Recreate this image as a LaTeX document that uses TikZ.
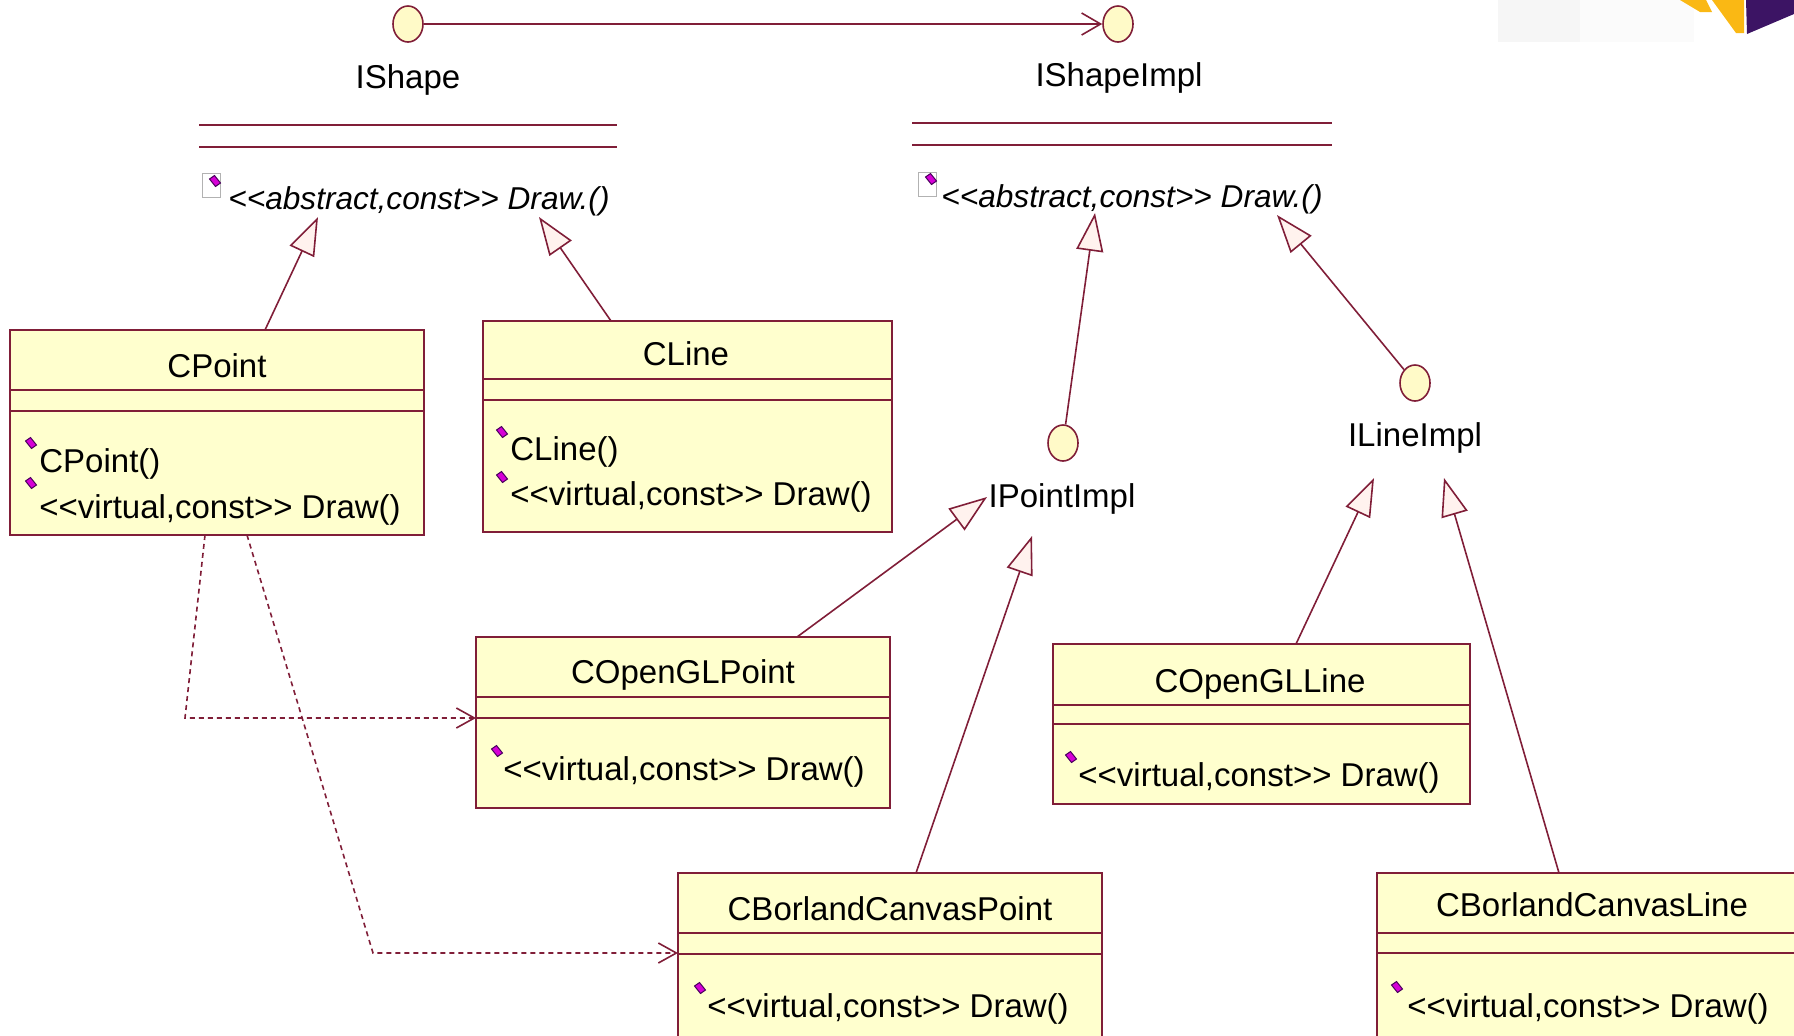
\documentclass[tikz,border=0pt]{standalone}
\usepackage{fontspec}
\setmainfont{Liberation Sans}[Ligatures=TeXOff]
\usetikzlibrary{arrows.meta,shapes.geometric}

\definecolor{umlred}{RGB}{128,30,56}
\definecolor{umlyellow}{RGB}{255,255,206}
\definecolor{umlcircle}{RGB}{255,250,200}
\definecolor{umltri}{RGB}{255,242,238}
\definecolor{opmagenta}{RGB}{214,0,214}
\definecolor{opedge}{RGB}{70,0,90}
\definecolor{logoyellow}{RGB}{250,184,20}
\definecolor{logopurple}{RGB}{60,20,100}

\newcommand{\umlfont}{\fontsize{16.5}{19.8}\selectfont}
\newcommand{\absfont}{\fontsize{15.8}{19}\selectfont\itshape}
%operation marker (small magenta diamond)
\newcommand{\opmark}[2]{\filldraw[fill=opmagenta,draw=opedge,line width=0.5pt] (#1,#2) ++(-5.5,-2) -- ++(5,-3.5) -- ++(6,7.5) -- ++(-5,3.5) -- cycle;}

\tikzset{
  umlline/.style={draw=umlred, line width=0.8pt},
  classbox/.style={draw=umlred, fill=umlyellow, line width=0.8pt, anchor=north west, inner sep=0pt, outer sep=0pt},
  lollipop/.style={ellipse, draw=umlred, fill=umlcircle, line width=0.8pt, minimum width=15pt, minimum height=18pt, inner sep=0pt},
  titletext/.style={font=\umlfont, inner sep=0pt, anchor=base},
  optext/.style={font=\umlfont, inner sep=0pt, anchor=base west},
  inherit/.style={draw=umlred, line width=0.8pt, -{Triangle[length=19pt,width=13.5pt,fill=umltri]}},
  assoc/.style={draw=umlred, line width=0.8pt, -{Straight Barb[length=9.5pt,width=11pt]}},
  depend/.style={draw=umlred, line width=0.8pt, dash pattern=on 2.5pt off 2pt, -{Straight Barb[length=9pt,width=10pt]}}
}

\begin{document}
\begin{tikzpicture}[x=0.5pt,y=0.5pt,yscale=-1,xscale=1]
\useasboundingbox (0,0) rectangle (1794,1035);
\clip (0,0) rectangle (1794,1035);

%Logo corner
\fill[gray!7] (1498,0) rectangle (1580,42);
\fill[gray!3] (1580,0) rectangle (1694,42);
\fill[logoyellow] (1680,0) -- (1706,0) -- (1712,12) -- (1700,12) -- cycle;
\fill[logoyellow] (1712,0) -- (1744,0) -- (1744,33) -- (1736,33) -- cycle;
\fill[logopurple] (1746,0) -- (1794,0) -- (1794,14) -- (1747,34) -- cycle;

%Interfaces
\node[lollipop] (ishape) at (408,24) {};
\node[lollipop] (ishapeimpl) at (1118,24) {};
\node[lollipop] (ipointimpl) at (1063,443) {};
\node[lollipop] (ilineimpl) at (1415,383) {};

% Text Node
\node[titletext] (ishapename) at (408,88) {IShape};
% Text Node
\node[titletext] (ishapeimplname) at (1119,86) {IShapeImpl};
% Text Node
\node[titletext] (ipointimplname) at (1062,507) {IPointImpl};
% Text Node
\node[titletext] (ilineimplname) at (1415,446) {ILineImpl};

%Interface compartments
\draw[umlline] (199,125) -- (617,125) (199,147) -- (617,147);
\draw[umlline] (912,123) -- (1332,123) (912,145) -- (1332,145);

%Abstract operations
\draw[fill=white,draw=gray!60,line width=0.4pt] (202,173) rectangle (220,197);
\opmark{215}{181}
\node[optext,font=\absfont] (ishapeop) at (228,209) {<<abstract,const>> Draw.()};
\draw[fill=white,draw=gray!60,line width=0.4pt] (918,172) rectangle (936,196);
\opmark{931}{179}
\node[optext,font=\absfont] (ishapeimplop) at (941,207) {<<abstract,const>> Draw.()};

%Class CPoint
\node[classbox,minimum width=207pt,minimum height=102.5pt] (cpoint) at (10,330) {};
\draw[umlline] (10,390) -- (424,390) (10,411) -- (424,411);
\node[titletext] (cpointname) at (217,377) {CPoint};
\opmark{31}{443}
\node[optext] (cpointop1) at (39,472) {CPoint()};
\opmark{31}{483}
\node[optext] (cpointop2) at (39,518) {<<virtual,const>> Draw()};

%Class CLine
\node[classbox,minimum width=204.5pt,minimum height=105.5pt] (cline) at (483,321) {};
\draw[umlline] (483,379) -- (892,379) (483,400) -- (892,400);
\node[titletext] (clinename) at (686,365) {CLine};
\opmark{502}{432}
\node[optext] (clineop1) at (510,460) {CLine()};
\opmark{502}{477}
\node[optext] (clineop2) at (510,505) {<<virtual,const>> Draw()};

%Class COpenGLPoint
\node[classbox,minimum width=207pt,minimum height=85.5pt] (copenglpoint) at (476,637) {};
\draw[umlline] (476,697) -- (890,697) (476,718) -- (890,718);
\node[titletext] (copenglpointname) at (683,683) {COpenGLPoint};
\opmark{497}{751}
\node[optext] (copenglpointop) at (503,780) {<<virtual,const>> Draw()};

%Class COpenGLLine
\node[classbox,minimum width=208.5pt,minimum height=80pt] (copengline) at (1053,644) {};
\draw[umlline] (1053,705) -- (1470,705) (1053,724) -- (1470,724);
\node[titletext] (copenglinename) at (1260,692) {COpenGLLine};
\opmark{1071}{757}
\node[optext] (copenglineop) at (1078,786) {<<virtual,const>> Draw()};

%Class CBorlandCanvasPoint
\node[classbox,minimum width=212pt,minimum height=93.5pt] (cborlandpoint) at (678,873) {};
\draw[umlline] (678,933) -- (1102,933) (678,954) -- (1102,954);
\node[titletext] (cborlandpointname) at (890,920) {CBorlandCanvasPoint};
\opmark{700}{988}
\node[optext] (cborlandpointop) at (707,1017) {<<virtual,const>> Draw()};

%Class CBorlandCanvasLine
\node[classbox,minimum width=215.5pt,minimum height=93.5pt] (cborlandline) at (1377,873) {};
\draw[umlline] (1377,933) -- (1808,933) (1377,953) -- (1808,953);
\node[titletext] (cborlandlinename) at (1592,916) {CBorlandCanvasLine};
\opmark{1397}{987}
\node[optext] (cborlandlineop) at (1407,1017) {<<virtual,const>> Draw()};

%Association
\draw[assoc] (ishape) -- (ishapeimpl);

%Generalizations
\coordinate (ishapetipa) at (318,217);
\coordinate (ishapetipb) at (539,217);
\coordinate (ishapeimpltipa) at (1095,213);
\coordinate (ishapeimpltipb) at (1277,215);
\coordinate (ipointtipa) at (987,497);
\coordinate (ipointtipb) at (1032,536);
\coordinate (ilinetipa) at (1374,478);
\coordinate (ilinetipb) at (1444,478);
\draw[inherit] (cpoint.north -| 265,0) -- (ishapetipa);
\draw[inherit] (cline.north -| 611,0) -- (ishapetipb);
\draw[inherit] (ipointimpl) -- (ishapeimpltipa);
\draw[inherit] (ilineimpl) -- (ishapeimpltipb);
\draw[inherit] (copenglpoint.north -| 797,0) -- (ipointtipa);
\draw[inherit] (cborlandpoint.north -| 916,0) -- (ipointtipb);
\draw[inherit] (copengline.north -| 1296,0) -- (ilinetipa);
\draw[inherit] (cborlandline.north -| 1559,0) -- (ilinetipb);

%Dependencies
\draw[depend] (cpoint.south -| 205,0) -- (185,718) -- (copenglpoint.west |- 0,718);
\draw[depend] (cpoint.south -| 247,0) -- (373,953) -- (cborlandpoint.west |- 0,953);
\end{tikzpicture}
\end{document}
